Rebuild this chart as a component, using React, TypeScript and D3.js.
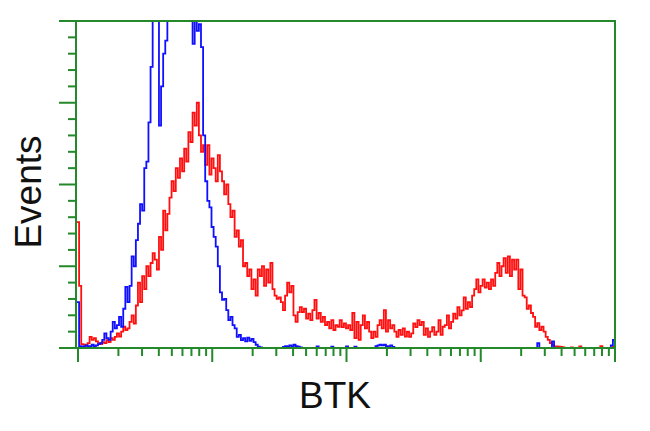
import React from "react";
import * as d3 from "d3";

// Histogram counts (scaled so that top of the plot = 100), 256 channels
const redCounts: number[] = [
  38.5, 19, 1.2, 1, 0.8, 1.5, 3.4, 2.5, 3, 2,
  1.5, 1.2, 1.8, 1.5, 2.4, 1.8, 3, 2.5, 3.4, 4.5,
  3.5, 5, 6.5, 5.5, 6, 8, 10, 7.5, 13, 20,
  14, 22, 18, 25, 22, 26, 29, 27, 24, 34,
  30, 42, 36, 41, 46, 51, 48, 55, 52, 58,
  54, 61, 57, 66, 63, 72, 68, 75, 65, 60,
  62, 56, 62, 53, 58, 55, 51, 59, 54, 51,
  47, 50, 44, 40, 42, 34, 36, 31, 33, 25,
  26, 22, 24, 18, 21, 16, 24, 22, 25, 19,
  24, 20, 26, 18, 16, 15, 15.5, 14, 11.6, 16,
  20, 17, 19, 10, 8, 11, 12.5, 11, 12, 9,
  10.5, 8.5, 11.6, 14.7, 9, 10.7, 8, 9.5, 7, 8,
  6, 8.5, 5.5, 7, 6.5, 8.5, 6.4, 7.5, 6, 7,
  5.5, 10.7, 3, 8, 2.5, 7, 10, 6, 8, 5,
  3, 5, 3.4, 7, 8.5, 6, 11.6, 5, 8.5, 6,
  7, 5, 3.4, 5.5, 4, 6, 3.5, 5, 3.4, 4.5,
  7.5, 6.4, 8.5, 7, 8, 4, 6, 3.4, 5, 6.4,
  4, 5, 8.5, 4, 6.5, 7, 10, 6, 8, 10.5,
  9, 12.5, 10, 11.5, 15.5, 12, 14, 12.5, 16, 18,
  21, 17, 19, 21, 18.5, 20, 18, 21, 19, 23,
  26, 22, 25, 27.5, 23, 28, 22, 27, 24, 27,
  18, 24, 16, 15.5, 12, 13, 10.7, 9.5, 6.5, 7.6,
  5.5, 6.5, 5, 3.4, 2.5, 1.5, 1, 0.5, 0.5, 0.4,
  0.3, 0.2, 0, 0, 0, 0.2, 0, 0, 0, 0.5,
  0, 0, 0, 0, 0, 0, 0, 0, 0, 0.6,
  0, 0, 0, 0, 0, 0.3,
];

const blueCounts: number[] = [
  14, 0.6, 0.3, 0.5, 0.8, 0.5, 0.6, 1, 0.5, 0.8,
  1.2, 1.5, 2.5, 4.5, 3, 2.5, 5, 8, 6, 7,
  9.5, 6.5, 12, 18.7, 14, 19, 28, 25, 33, 38,
  44, 42, 55, 57, 69, 86, 108, 112, 102, 68,
  80, 90, 94, 104, 115, 125, 130, 140, 145, 150,
  148, 146, 140, 130, 120, 93, 105, 97, 99, 92,
  65, 51, 45, 43, 37, 34, 31, 25, 17, 14.7,
  15, 11.6, 8.5, 9.5, 7, 6, 3.4, 4, 2.4, 3,
  2, 3.2, 2.2, 2.8, 1.8, 1, 0.4, 0.2, 0, 0,
  0, 0, 0, 0, 0, 0, 0, 0, 0.3, 0.6,
  0.4, 0.8, 0.5, 1, 0.6, 0.4, 0.2, 0, 0, 0,
  0, 0, 0, 0, 0.5, 0, 0, 0, 0, 0,
  0, 0.4, 0, 0, 0, 0, 0, 0, 0.5, 0,
  0, 0, 0.4, 0, 0, 0, 0, 0, 0, 0,
  0, 0, 0.6, 0.8, 1, 0.8, 1, 0.6, 0.4, 0.8,
  0.3, 0, 0, 0, 0, 0, 0, 0, 0, 0,
  0, 0, 0, 0, 0, 0, 0, 0, 0, 0,
  0, 0, 0, 0, 0, 0, 0, 0, 0, 0,
  0, 0, 0, 0, 0, 0, 0, 0, 0, 0,
  0, 0, 0, 0, 0, 0, 0, 0, 0, 0,
  0, 0, 0, 0, 0, 0, 0, 0, 0, 0,
  0, 0, 0, 0, 0, 0, 0, 0, 0, 1.5,
  0, 0, 0, 0, 0, 0, 2, 0, 0, 0,
  0, 0, 0, 0, 0, 0, 0, 0, 0, 0,
  0, 0, 0, 0, 0, 0, 0, 0, 0, 0,
  0, 0, 0, 0, 0.8, 2.5,
];

const yMajorTicks = [0, 25, 50, 75, 100];
const yMinorTicks = d3.range(0, 101, 5).filter((v) => v % 25 !== 0);
const xDecades = [1, 10, 100, 1000, 10000];
const xLabel = "BTK";
const yLabel = "Events";

const W = 650;
const H = 431;
const left = 76;
const right = 615;
const top = 21;
const bottom = 348;
const green = "#23892a";

export default function App() {
  const nBins = redCounts.length;
  const xBin = d3.scaleLinear().domain([0, nBins]).range([77, right]);
  const xLog = d3.scaleLog().domain([1, 10000]).range([78, right]);
  const y = d3.scaleLinear().domain([0, 100]).range([bottom, top]);

  const line = d3
    .line<[number, number]>()
    .x((d) => d[0])
    .y((d) => d[1])
    .curve(d3.curveStepAfter);

  const toPts = (arr: number[]): [number, number][] => {
    const pts: [number, number][] = arr.map((v, i) => [xBin(i), y(v)]);
    pts.push([xBin(arr.length), y(arr[arr.length - 1])]);
    return pts;
  };

  const minorX: number[] = [];
  for (let d = 0; d < 4; d++) {
    for (let k = 2; k <= 9; k++) minorX.push(xDecades[d] * k);
  }

  return (
    <svg width={W} height={H} style={{ display: "block", position: "absolute", left: 0, top: 0 }}>
      <rect x={0} y={0} width={W} height={H} fill="#fff" />
      <defs>
        <clipPath id="plotclip">
          <rect x={left - 1} y={top} width={right - left + 2} height={bottom - top + 1} />
        </clipPath>
      </defs>
      <g clipPath="url(#plotclip)">
        <path d={line(toPts(redCounts)) || ""} fill="none" stroke="#ff1010" strokeWidth={1.8} />
        <path d={line(toPts(blueCounts)) || ""} fill="none" stroke="#1010ff" strokeWidth={1.8} />
      </g>
      {/* frame */}
      <line x1={left} x2={left} y1={top} y2={bottom} stroke={green} strokeWidth={2} />
      <line x1={right} x2={right} y1={top - 1} y2={bottom} stroke={green} strokeWidth={2} />
      <line x1={left} x2={right + 1} y1={top} y2={top} stroke={green} strokeWidth={2} />
      <line x1={left} x2={right + 1} y1={bottom} y2={bottom} stroke={green} strokeWidth={2} />
      {/* y ticks */}
      {yMajorTicks.map((t) => (
        <line key={"ym" + t} x1={59} x2={left} y1={y(t)} y2={y(t)} stroke={green} strokeWidth={2} />
      ))}
      {yMinorTicks.map((t) => (
        <line key={"yn" + t} x1={68} x2={left} y1={y(t)} y2={y(t)} stroke={green} strokeWidth={2} />
      ))}
      {/* x ticks */}
      {xDecades.map((t) => (
        <line key={"xm" + t} x1={xLog(t)} x2={xLog(t)} y1={bottom} y2={362} stroke={green} strokeWidth={2} />
      ))}
      {minorX.map((t) => (
        <line key={"xn" + t} x1={xLog(t)} x2={xLog(t)} y1={bottom} y2={356} stroke={green} strokeWidth={2} />
      ))}
      <text
        x={335}
        y={408}
        textAnchor="middle"
        fontFamily="Liberation Sans, Arial, sans-serif"
        fontSize={37}
        fill="#111"
      >
        {xLabel}
      </text>
      <text
        transform="translate(41,192) rotate(-90)"
        textAnchor="middle"
        fontFamily="Liberation Sans, Arial, sans-serif"
        fontSize={37}
        fill="#111"
      >
        {yLabel}
      </text>
    </svg>
  );
}
